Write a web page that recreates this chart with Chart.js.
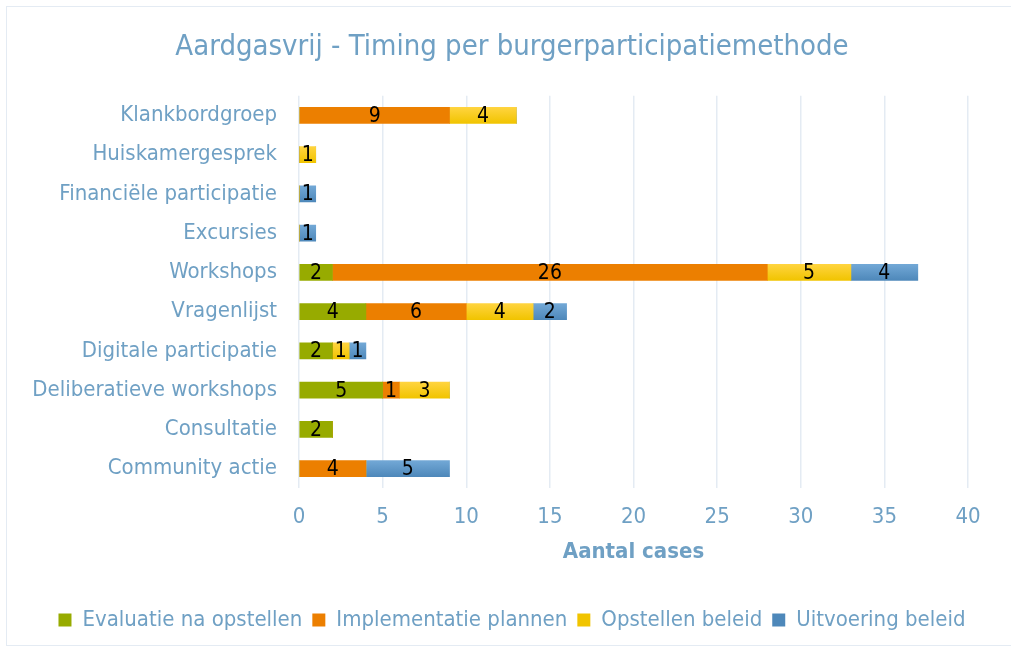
<!DOCTYPE html>
<html>
<head>
<meta charset="utf-8">
<script src="https://cdn.jsdelivr.net/npm/chart.js@4"></script>
<style>
html,body{margin:0;padding:0;background:#fff;}
#wrap{position:absolute;left:0;top:0;width:1011px;height:653px;}
#frame{position:absolute;left:6px;top:6px;width:1010px;height:640px;border:1px solid #E4EBF3;box-sizing:border-box;}
canvas{position:absolute;left:0;top:0;}
</style>
</head>
<body>
<div id="wrap"><div id="frame"></div><canvas id="c" width="1011" height="653"></canvas></div>
<script>
const categories = ["Klankbordgroep","Huiskamergesprek","Financiële participatie","Excursies","Workshops","Vragenlijst","Digitale participatie","Deliberatieve workshops","Consultatie","Community actie"];
const evaluatieNaOpstellen = [0,0,0,0,2,4,2,5,2,0];
const implementatiePlannen = [9,0,0,0,26,6,0,1,0,4];
const opstellenBeleid = [4,1,0,0,5,4,1,3,0,0];
const uitvoeringBeleid = [0,0,1,1,4,2,1,0,0,5];
const seriesNames = ["Evaluatie na opstellen","Implementatie plannen","Opstellen beleid","Uitvoering beleid"];
const xTicks = [0,5,10,15,20,25,30,35,40];

const FONT = "'Liberation Sans Narrow','DejaVu Sans Condensed','Liberation Sans',sans-serif";
const TXT = '#6FA0C4';
const BAR_T = 16;

function gradFill(top, bottom, solid){
  return function(c){
    const chart = c.chart; const ys = chart.scales && chart.scales.y;
    if(!ys || c.dataIndex === undefined || !isFinite(ys.getPixelForValue(c.dataIndex))) return solid;
    const cy = ys.getPixelForValue(c.dataIndex);
    const g = chart.ctx.createLinearGradient(0, cy - BAR_T/2, 0, cy + BAR_T/2);
    g.addColorStop(0, top); g.addColorStop(1, bottom);
    return g;
  };
}

const labelPlugin = {
  id:'segLabels',
  afterDatasetsDraw(chart){
    const ctx = chart.ctx;
    ctx.save();
    ctx.font = "21px " + FONT;
    ctx.fillStyle = '#000';
    ctx.textAlign = 'center';
    ctx.textBaseline = 'middle';
    chart.data.datasets.forEach((ds, di) => {
      const meta = chart.getDatasetMeta(di);
      meta.data.forEach((el, i) => {
        const v = ds.data[i];
        if(!v) return;
        const x = (el.x + el.base)/2;
        ctx.fillText(String(v), x, el.y + 1);
      });
    });
    ctx.restore();
  }
};

const solidColors = ['#97AB00','#EC7F00','#FFCC00','#5B97C8'];

new Chart(document.getElementById('c'), {
  type:'bar',
  data:{
    labels: categories,
    datasets:[
      {label:seriesNames[0], data:evaluatieNaOpstellen, backgroundColor:solidColors[0]},
      {label:seriesNames[1], data:implementatiePlannen, backgroundColor:solidColors[1]},
      {label:seriesNames[2], data:opstellenBeleid, backgroundColor:gradFill('#FFD43F','#F1C400',solidColors[2])},
      {label:seriesNames[3], data:uitvoeringBeleid, backgroundColor:gradFill('#72A8D6','#4E88BA',solidColors[3])}
    ]
  },
  options:{
    indexAxis:'y',
    responsive:false,
    animation:false,
    devicePixelRatio:1,
    layout:{padding:{left:20,right:7,top:30,bottom:12}},
    datasets:{bar:{barThickness:BAR_T}},
    scales:{
      x:{
        stacked:true, min:0, max:40,
        afterBuildTicks(s){ s.ticks = xTicks.map(v=>({value:v})); },
        grid:{color:'#E4EBF3', lineWidth:1.5, drawTicks:false},
        border:{display:false},
        ticks:{color:TXT, font:{family:FONT,size:22}, padding:16},
        title:{display:true, text:'Aantal cases', color:TXT, font:{family:FONT,size:22,weight:'bold'}, padding:{top:-8,bottom:34}}
      },
      y:{
        stacked:true,
        grid:{display:false},
        border:{display:false},
        ticks:{color:TXT, font:{family:FONT,size:22}, padding:14},
        afterFit(s){ s.width = 279; }
      },
      yPad:{
        type:'category', labels:categories, position:'right', axis:'y',
        grid:{display:false}, border:{display:false},
        ticks:{display:false},
        afterFit(s){ s.width = 36; }
      }
    },
    plugins:{
      title:{display:true, text:'Aardgasvrij - Timing per burgerparticipatiemethode', color:TXT, font:{family:FONT,size:29,weight:'normal'}, padding:{top:0,bottom:31}},
      legend:{position:'bottom', labels:{color:TXT, font:{family:FONT,size:22}, boxWidth:13, boxHeight:13, padding:10}},
      tooltip:{enabled:false}
    }
  },
  plugins:[labelPlugin]
});
</script>
</body>
</html>
